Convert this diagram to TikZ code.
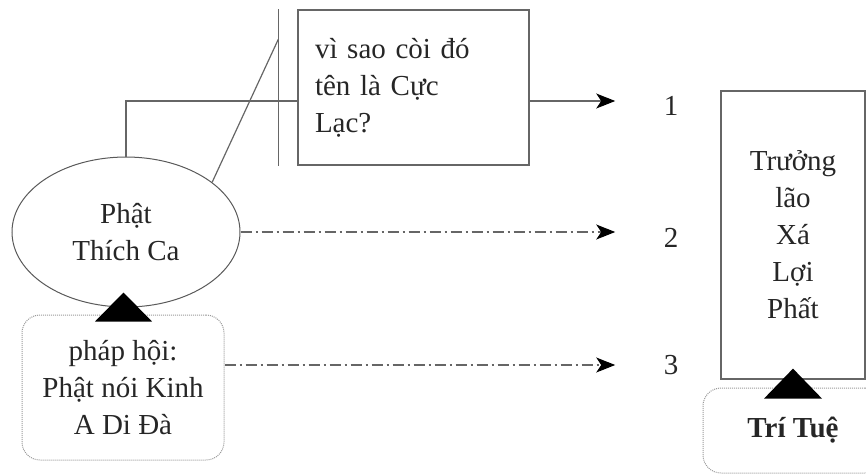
\documentclass[tikz,border=0pt]{standalone}
\usepackage{fontspec}
\setmainfont{Liberation Serif}
\usetikzlibrary{arrows.meta,shapes.geometric,calc}

\begin{document}
\begin{tikzpicture}[
  x=1pt, y=-1pt,
  >={Stealth[length=19pt,width=15pt,inset=5pt,color=black]},
  font=\fontsize{29}{37}\selectfont,
  every node/.style={text=black!85},
  block/.style={rectangle, draw=black!60, line width=1.2pt, align=center},
  ellbox/.style={ellipse, draw=black!65, line width=1pt, minimum width=228pt, minimum height=150pt, align=center},
  softbox/.style={rectangle, draw=black!40, densely dotted, line width=1pt, rounded corners=18pt, align=center},
  line/.style={draw=black!60, line width=1.2pt},
  dashdot/.style={line, dash pattern=on 11pt off 4pt on 2pt off 4pt},
  head/.style={fill=black}
]
\useasboundingbox (0,0) rectangle (866,475);

\node[block, minimum width=231pt, minimum height=155pt, text width=197pt, inner xsep=17pt, align=left] (qbox) at (413.5,87.5) {vì sao còi đó\\tên là Cực\\Lạc?};
\node[ellbox] (ell) at (126,232) {Phật\\Thích Ca};
\node[softbox, minimum width=202pt, minimum height=145pt] (dbox) at (123,387.5) {pháp hội:\\Phật nói Kinh\\A Di Đà};
\node[block, minimum width=144pt, minimum height=288pt] (elder) at (793,235) {Trưởng\\lão\\Xá\\Lợi\\Phất};
\node[softbox, minimum width=180pt, minimum height=85pt, font=\fontsize{29}{37}\selectfont\bfseries] (wis) at (793,430.5) {Trí Tuệ};

\node (n1) at (671,106) {1};
\node (n2) at (671,238) {2};
\node (n3) at (671,365) {3};

\coordinate (bartop) at ([xshift=-19pt]qbox.north west);
\coordinate (barbot) at ([xshift=-19pt]qbox.south west);
\coordinate (barpin) at ($(bartop)!0.19!(barbot)$);
\coordinate (qin) at ([yshift=-13.5pt]qbox.west);
\coordinate (qout) at ([yshift=-13.5pt]qbox.east);
\coordinate (dout) at ([yshift=22.5pt]dbox.east);

\path[line] (bartop) -- (barbot);
\path[line] (ell.30) -- (barpin);
\path[line] (ell.north) |- (qin);

\path[line,->,shorten >=45pt] (qout) -- (qout -| n1.west);
\path[dashdot,->,shorten >=45pt] (ell.east) -- (ell.east -| n2.west);
\path[dashdot,->,shorten >=45pt] (dout) -- (dout -| n3.west);

\fill[head] (dbox.north) ++(-28,7) -- ++(57,0) -- ++(-28.5,-29) -- cycle;
\fill[head] (elder.south) ++(-29,19) -- ++(58,0) -- ++(-29,-30) -- cycle;

\end{tikzpicture}
\end{document}
